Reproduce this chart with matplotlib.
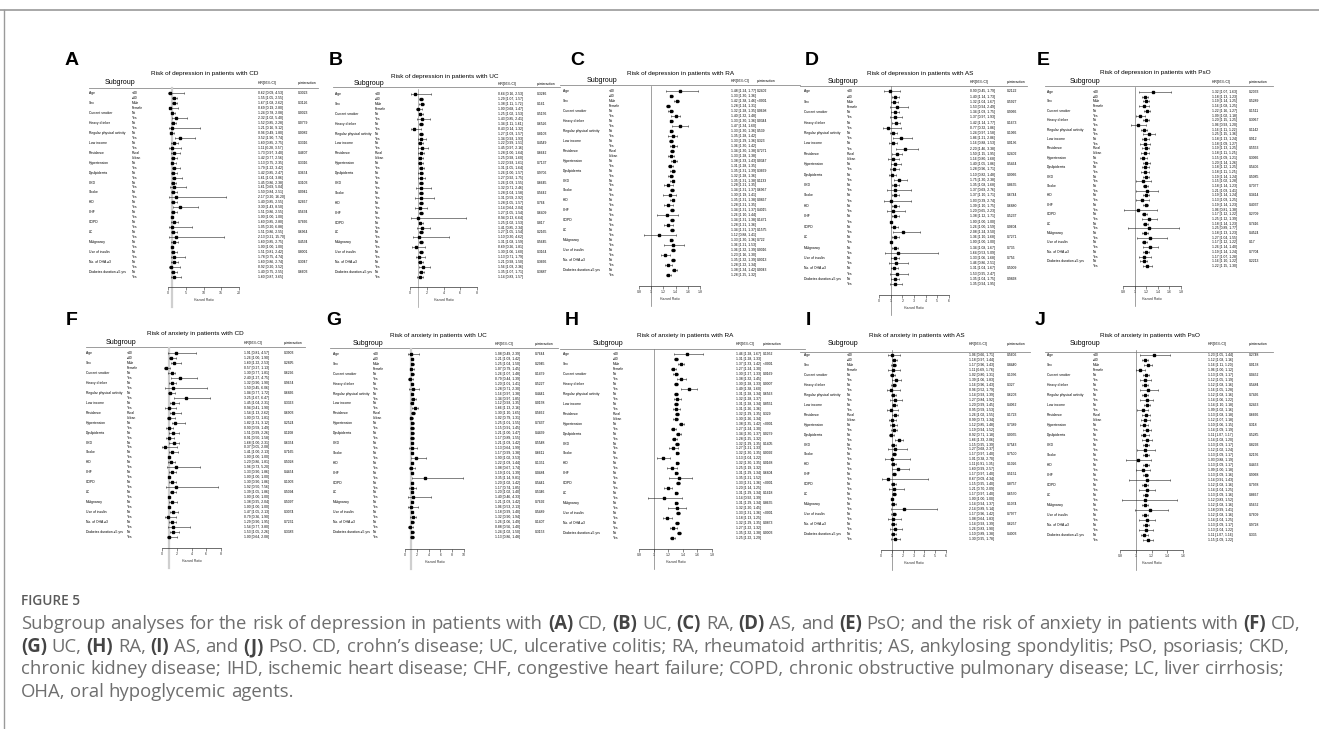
import re
import numpy as np
import matplotlib
matplotlib.use("Agg")
import matplotlib.pyplot as plt
import matplotlib.transforms as mtransforms

W, H = 1319, 729
plt.rcParams['font.family'] = ['Liberation Sans', 'DejaVu Sans']

# ---- data -------------------------------------------------------------
variables = ["Age", "Sex", "Current smoker", "Heavy drinker", "Regular physical activity",
             "Low income", "Residence", "Hypertension", "Dyslipidemia", "CKD", "Stroke",
             "IHD", "CHF", "COPD", "LC", "Malignancy", "Use of insulin", "No. of OHA \u22653",
             "Diabetes duration \u22655 yrs"]
levels = ["<40", "\u226540", "Male", "Female"] + ["No", "Yes"] * 4 + ["Rural", "Urban"] + ["No", "Yes"] * 12

# A: depression, CD
hr_a = [0.62, 1.55, 1.67, 0.69, 1.24, 2.32, 1.52, 1.21, 0.96, 3.52, 1.60, 1.11, 1.73, 1.42, 1.13, 1.79, 1.42, 1.61, 1.45,
        1.61, 1.50, 2.17, 1.40, 3.30, 1.51, 1.00, 1.60, 1.05, 1.51, 2.13, 1.60, 1.00, 1.51, 1.78, 1.60, 0.92, 1.40, 1.60]
lo_a = [0.09, 1.05, 1.08, 0.19, 0.78, 1.02, 0.85, 0.16, 0.49, 1.90, 0.85, 0.28, 0.97, 0.77, 0.75, 1.22, 0.85, 1.04, 0.86,
        0.69, 0.84, 0.20, 0.85, 1.43, 0.86, 1.00, 0.85, 0.20, 0.86, 0.21, 0.85, 1.00, 0.81, 0.75, 0.86, 0.20, 0.75, 0.87]
hi_a = [4.53, 2.55, 2.62, 2.80, 2.08, 5.40, 2.28, 9.12, 1.80, 7.74, 2.75, 3.57, 3.40, 2.56, 2.35, 3.42, 2.47, 3.86, 2.38,
        5.04, 2.51, 16.20, 2.55, 8.50, 2.55, 1.00, 2.80, 6.88, 2.55, 15.70, 2.75, 1.00, 2.42, 4.74, 2.74, 3.52, 2.55, 3.65]
p_a = ['0.3023', '0.3126', '0.0023', '0.0779', '0.0082', '0.3316', '0.4607', '0.3316', '0.3654', '0.3103',
       '0.0941', '0.2667', '0.5634', '0.7666', '0.6964', '0.4534', '0.8001', '0.3047', '0.6603']

# B: depression, UC
hr_b = [0.64, 1.29, 1.38, 1.00, 1.25, 1.43, 1.34, 0.43, 1.27, 1.34, 1.22, 1.45, 1.28, 1.25, 1.22, 1.31, 1.26, 1.27, 1.26,
        1.32, 1.28, 1.31, 1.28, 1.14, 1.27, 0.94, 1.25, 1.41, 1.27, 1.10, 1.31, 0.69, 1.30, 1.13, 1.21, 1.56, 1.35, 1.14]
lo_b = [0.16, 1.07, 1.11, 0.68, 1.02, 0.85, 1.11, 0.14, 1.03, 0.93, 0.99, 0.97, 1.00, 0.98, 0.93, 1.05, 1.00, 0.92, 1.03,
        0.71, 1.04, 0.59, 1.05, 0.64, 1.05, 0.13, 1.02, 0.85, 1.05, 0.30, 1.08, 0.26, 1.06, 0.71, 0.98, 1.03, 1.07, 0.83]
hi_b = [2.53, 1.57, 1.72, 1.47, 1.53, 2.41, 1.61, 1.32, 1.57, 1.93, 1.51, 2.16, 1.64, 1.60, 1.61, 1.64, 1.57, 1.75, 1.55,
        2.46, 1.58, 2.92, 1.57, 2.04, 1.54, 6.64, 1.53, 2.34, 1.54, 4.62, 1.59, 1.81, 1.60, 1.79, 1.50, 2.36, 1.71, 1.57]
p_b = ['0.3246', '0.161', '0.5156', '0.6526', '0.8103', '0.4549', '0.6642', '0.7137', '0.9706', '0.6645',
       '0.5642', '0.764', '0.6409', '0.817', '0.2165', '0.5645', '0.3164', '0.3666', '0.3887']

# C: depression, RA
hr_c = [1.48, 1.33, 1.42, 1.28, 1.32, 1.40, 1.33, 1.47, 1.33, 1.35, 1.33, 1.36, 1.34, 1.33, 1.38, 1.31, 1.35, 1.32, 1.35,
        1.28, 1.34, 1.30, 1.35, 1.28, 1.34, 1.26, 1.34, 1.28, 1.34, 1.12, 1.33, 1.36, 1.36, 1.23, 1.35, 1.28, 1.38, 1.28]
lo_c = [1.24, 1.30, 1.38, 1.24, 1.28, 1.32, 1.30, 1.34, 1.30, 1.28, 1.29, 1.30, 1.30, 1.28, 1.33, 1.28, 1.31, 1.28, 1.31,
        1.21, 1.31, 1.19, 1.31, 1.21, 1.31, 1.10, 1.31, 1.21, 1.31, 0.88, 1.30, 1.21, 1.32, 1.16, 1.32, 1.22, 1.34, 1.25]
hi_c = [1.77, 1.36, 1.46, 1.31, 1.35, 1.48, 1.36, 1.60, 1.36, 1.42, 1.36, 1.42, 1.38, 1.38, 1.43, 1.35, 1.39, 1.36, 1.38,
        1.35, 1.37, 1.41, 1.38, 1.35, 1.37, 1.44, 1.38, 1.36, 1.37, 1.41, 1.36, 1.53, 1.39, 1.30, 1.39, 1.34, 1.42, 1.32]
p_c = ['0.2402', '<.0001', '0.0698', '0.0344', '0.539', '0.323', '0.7271', '0.0347', '0.3669', '0.1133',
       '0.6967', '0.0867', '0.4015', '0.1471', '0.1575', '0.722', '0.0016', '0.0013', '0.0043']

# D: depression, AS
hr_d = [0.90, 1.40, 1.32, 1.53, 1.34, 1.37, 1.42, 0.77, 1.24, 1.86, 1.16, 2.20, 1.50, 1.16, 1.40, 1.28, 1.10, 1.75, 1.35,
        1.37, 1.37, 1.03, 1.39, 1.20, 1.38, 1.00, 1.26, 2.08, 1.36, 1.00, 1.34, 1.64, 1.33, 1.46, 1.31, 1.53, 1.35, 1.35]
lo_d = [0.45, 1.14, 1.04, 0.94, 1.03, 0.97, 1.14, 0.32, 0.97, 1.21, 0.88, 1.46, 1.15, 0.80, 1.05, 0.96, 0.82, 1.30, 1.08,
        0.69, 1.10, 0.39, 1.10, 0.65, 1.12, 1.00, 1.00, 1.24, 1.10, 1.00, 1.08, 0.53, 1.06, 0.86, 1.04, 0.95, 1.04, 0.94]
hi_d = [1.79, 1.73, 1.67, 2.49, 1.75, 1.93, 1.77, 1.86, 1.58, 2.86, 1.53, 3.38, 1.95, 1.68, 1.86, 1.71, 1.48, 2.38, 1.68,
        2.76, 1.71, 2.74, 1.75, 2.23, 1.71, 1.00, 1.59, 3.50, 1.68, 1.00, 1.67, 5.09, 1.68, 2.51, 1.67, 2.47, 1.75, 1.95]
p_d = ['0.2122', '0.5927', '0.9066', '0.1673', '0.1066', '0.0136', '0.2402', '0.5464', '0.0066', '0.8655',
       '0.6744', '0.6880', '0.5237', '0.0604', '0.7271', '0.735', '0.756', '0.5009', '0.9868']

# E: depression, PsO
hr_e = [1.32, 1.18, 1.19, 1.16, 1.22, 1.09, 1.20, 1.06, 1.16, 1.25, 1.18, 1.18, 1.19, 1.18, 1.15, 1.20, 1.18, 1.18, 1.19,
        1.15, 1.18, 1.21, 1.19, 1.13, 1.19, 1.06, 1.17, 1.25, 1.18, 1.25, 1.18, 1.27, 1.17, 1.26, 1.19, 1.17, 1.16, 1.22]
lo_e = [1.07, 1.13, 1.14, 1.08, 1.16, 1.02, 1.15, 0.93, 1.11, 1.15, 1.13, 1.09, 1.13, 1.11, 1.09, 1.14, 1.12, 1.11, 1.14,
        1.02, 1.14, 1.03, 1.14, 1.03, 1.14, 0.81, 1.12, 1.12, 1.14, 0.89, 1.13, 1.04, 1.12, 1.14, 1.14, 1.07, 1.10, 1.15]
hi_e = [1.63, 1.23, 1.25, 1.25, 1.27, 1.18, 1.25, 1.20, 1.22, 1.36, 1.24, 1.27, 1.25, 1.25, 1.21, 1.26, 1.25, 1.25, 1.24,
        1.28, 1.23, 1.41, 1.24, 1.25, 1.23, 1.38, 1.22, 1.39, 1.23, 1.77, 1.23, 1.55, 1.22, 1.40, 1.24, 1.28, 1.22, 1.30]
p_e = ['0.2033', '0.5289', '0.1511', '0.3067', '0.1142', '0.912', '0.5553', '0.3066', '0.5406', '0.5085',
       '0.7077', '0.3414', '0.4037', '0.2709', '0.7416', '0.4524', '0.17', '0.7704', '0.2213']

# F: anxiety, CD
hr_f = [1.91, 1.26, 1.60, 0.57, 1.30, 2.40, 1.32, 1.50, 1.04, 3.25, 1.45, 0.94, 1.54, 1.00, 1.82, 0.90, 1.51, 0.91, 1.68,
        0.37, 1.41, 1.00, 1.20, 1.96, 1.33, 1.00, 1.30, 1.92, 1.39, 1.00, 1.38, 1.00, 1.47, 0.79, 1.29, 1.54, 1.53, 1.00]
lo_f = [0.81, 1.00, 1.22, 0.27, 0.77, 1.27, 0.90, 0.45, 0.77, 1.67, 1.04, 0.41, 1.13, 0.72, 1.31, 0.59, 0.99, 0.50, 1.00,
        0.05, 1.00, 1.00, 0.86, 0.73, 0.90, 1.00, 0.90, 0.50, 1.05, 1.00, 0.95, 1.00, 1.05, 0.36, 0.90, 0.77, 1.05, 0.64]
hi_f = [4.57, 1.90, 2.53, 1.13, 1.81, 4.75, 1.90, 6.06, 1.72, 6.47, 2.31, 1.90, 2.62, 1.81, 3.12, 1.49, 2.26, 1.58, 2.31,
        2.08, 2.13, 1.00, 1.81, 5.20, 1.86, 1.00, 1.86, 7.56, 1.86, 1.00, 2.04, 1.00, 2.13, 1.90, 1.95, 3.80, 2.26, 2.08]
p_f = ['0.3903', '0.2895', '0.6296', '0.9654', '0.6866', '0.3363', '0.6903', '0.2524', '0.1108', '0.6354',
       '0.7165', '0.5028', '0.4454', '0.1003', '0.5094', '0.5097', '0.3074', '0.7231', '0.3383']

# G: anxiety, UC
hr_g = [1.08, 1.21, 1.25, 1.07, 1.26, 0.79, 1.20, 1.28, 1.16, 1.34, 1.12, 1.66, 1.30, 1.02, 1.25, 1.15, 1.21, 1.17, 1.21,
        1.13, 1.17, 1.90, 1.22, 1.08, 1.19, 3.35, 1.20, 1.17, 1.20, 1.40, 1.21, 1.06, 1.18, 1.32, 1.26, 0.88, 1.24, 1.13]
lo_g = [0.49, 1.03, 1.04, 0.79, 1.07, 0.44, 1.01, 0.71, 0.97, 0.97, 0.93, 1.13, 1.10, 0.79, 1.01, 0.91, 1.00, 0.89, 1.03,
        0.64, 0.99, 1.02, 1.03, 0.67, 1.01, 1.14, 1.02, 0.74, 1.02, 0.46, 1.03, 0.53, 0.99, 0.90, 1.06, 0.56, 1.02, 0.86]
hi_g = [2.39, 1.42, 1.50, 1.45, 1.48, 1.39, 1.41, 2.30, 1.38, 1.85, 1.35, 2.16, 1.65, 1.31, 1.55, 1.45, 1.47, 1.55, 1.42,
        1.99, 1.38, 3.53, 1.44, 1.74, 1.39, 9.81, 1.42, 1.85, 1.40, 4.33, 1.42, 2.13, 1.40, 1.94, 1.49, 1.40, 1.50, 1.48]
p_g = ['0.7644', '0.2945', '0.1479', '0.5227', '0.4441', '0.0158', '0.5662', '0.7437', '0.4439', '0.5548',
       '0.6611', '0.1351', '0.0484', '0.5441', '0.5346', '0.7692', '0.5489', '0.1407', '0.3153']

# H: anxiety, RA
hr_h = [1.46, 1.31, 1.37, 1.27, 1.30, 1.38, 1.30, 1.49, 1.31, 1.32, 1.31, 1.31, 1.32, 1.30, 1.38, 1.27, 1.34, 1.28, 1.32,
        1.27, 1.32, 1.13, 1.32, 1.25, 1.31, 1.35, 1.33, 1.20, 1.31, 1.14, 1.31, 1.32, 1.33, 1.18, 1.32, 1.27, 1.35, 1.25]
lo_h = [1.28, 1.28, 1.33, 1.24, 1.27, 1.32, 1.28, 1.38, 1.28, 1.28, 1.28, 1.26, 1.29, 1.26, 1.35, 1.24, 1.30, 1.25, 1.29,
        1.21, 1.30, 1.04, 1.30, 1.19, 1.29, 1.21, 1.31, 1.14, 1.29, 0.92, 1.29, 1.20, 1.31, 1.13, 1.29, 1.22, 1.32, 1.22]
hi_h = [1.67, 1.33, 1.42, 1.30, 1.33, 1.45, 1.33, 1.60, 1.34, 1.37, 1.34, 1.36, 1.35, 1.34, 1.42, 1.30, 1.37, 1.32, 1.35,
        1.33, 1.35, 1.22, 1.35, 1.32, 1.34, 1.52, 1.36, 1.25, 1.34, 1.39, 1.34, 1.45, 1.36, 1.25, 1.35, 1.32, 1.38, 1.29]
p_h = ['0.1952', '<.0001', '0.0169', '0.0007', '0.6563', '0.8551', '0.329', '<.0001', '0.0279', '0.1405',
       '0.0092', '0.0168', '0.6804', '<.0001', '0.1618', '0.8655', '<.0001', '0.0873', '0.0003']

# I: anxiety, AS
hr_i = [1.06, 1.18, 1.17, 1.11, 1.02, 1.39, 1.16, 0.96, 1.14, 1.27, 1.20, 0.95, 1.26, 0.99, 1.12, 1.19, 0.92, 1.66, 1.15,
        1.27, 1.17, 1.01, 1.11, 1.60, 1.17, 0.67, 1.15, 1.21, 1.17, 1.00, 1.14, 2.14, 1.17, 1.08, 1.14, 1.26, 1.10, 1.30]
lo_i = [0.66, 0.97, 0.96, 0.69, 0.80, 1.06, 0.96, 0.52, 0.93, 0.84, 0.99, 0.59, 1.02, 0.73, 0.85, 0.94, 0.71, 1.33, 0.95,
        0.68, 0.97, 0.38, 0.91, 0.99, 0.97, 0.09, 0.95, 0.70, 0.97, 1.00, 0.94, 0.89, 0.96, 0.64, 0.93, 0.83, 0.89, 0.95]
hi_i = [1.71, 1.44, 1.43, 1.78, 1.31, 1.83, 1.43, 1.79, 1.39, 1.92, 1.45, 1.53, 1.55, 1.34, 1.48, 1.52, 1.18, 2.06, 1.39,
        2.37, 1.40, 2.70, 1.35, 2.57, 1.40, 4.34, 1.40, 2.09, 1.40, 1.00, 1.37, 5.14, 1.42, 1.83, 1.39, 1.90, 1.38, 1.78]
p_i = ['0.5606', '0.8440', '0.1036', '0.327', '0.6203', '0.4062', '0.1723', '0.7389', '0.0055', '0.7543',
       '0.7500', '0.1026', '0.5151', '0.8757', '0.6570', '0.1074', '0.7977', '0.6257', '0.4003']

# J: anxiety, PsO
hr_j = [1.23, 1.12, 1.16, 1.06, 1.13, 1.12, 1.12, 1.16, 1.12, 1.14, 1.14, 1.09, 1.13, 1.12, 1.10, 1.14, 1.11, 1.14, 1.13,
        1.12, 1.13, 1.03, 1.13, 1.09, 1.13, 1.14, 1.12, 1.14, 1.13, 1.12, 1.12, 1.18, 1.12, 1.14, 1.13, 1.13, 1.11, 1.15]
lo_j = [1.05, 1.08, 1.11, 1.00, 1.09, 1.05, 1.08, 1.05, 1.08, 1.06, 1.10, 1.02, 1.08, 1.07, 1.06, 1.09, 1.07, 1.08, 1.09,
        1.02, 1.09, 0.88, 1.09, 1.00, 1.09, 0.91, 1.08, 1.04, 1.09, 0.83, 1.08, 0.99, 1.08, 1.04, 1.09, 1.04, 1.07, 1.09]
hi_j = [1.44, 1.16, 1.20, 1.12, 1.17, 1.19, 1.16, 1.28, 1.16, 1.22, 1.18, 1.16, 1.18, 1.18, 1.15, 1.19, 1.17, 1.20, 1.17,
        1.24, 1.17, 1.19, 1.17, 1.18, 1.16, 1.43, 1.16, 1.25, 1.16, 1.52, 1.16, 1.41, 1.16, 1.25, 1.17, 1.22, 1.16, 1.22]
p_j = ['0.2748', '0.0138', '0.0452', '0.5484', '0.7466', '0.2463', '0.6666', '0.318', '0.5285', '0.8293',
       '0.2156', '0.4453', '0.9068', '0.7958', '0.8667', '0.5652', '0.7609', '0.9728', '0.335']

titles = ["Risk of depression in patients with CD", "Risk of depression in patients with UC",
          "Risk of depression in patients with RA", "Risk of depression in patients with AS",
          "Risk of depression in patients with PsO", "Risk of anxiety in patients with CD",
          "Risk of anxiety in patients with UC", "Risk of anxiety in patients with RA",
          "Risk of anxiety in patients with AS", "Risk of anxiety in patients with PsO"]
letters = list("ABCDEFGHIJ")
ticks_all = [[0, 5, 10, 15, 20], [0, 2, 4, 6, 8], [0.8, 1, 1.2, 1.4, 1.6, 1.8], [0, 1, 2, 3, 4, 5, 6],
             [0.8, 1, 1.2, 1.4, 1.6, 1.8], [0, 2, 4, 6, 8], [0, 2, 4, 6, 8, 10], [0.8, 1, 1.2, 1.4, 1.6, 1.8],
             [0, 1, 2, 3, 4, 5, 6], [0.8, 1, 1.2, 1.4, 1.6]]
series = [(hr_a, lo_a, hi_a, p_a), (hr_b, lo_b, hi_b, p_b), (hr_c, lo_c, hi_c, p_c), (hr_d, lo_d, hi_d, p_d),
          (hr_e, lo_e, hi_e, p_e), (hr_f, lo_f, hi_f, p_f), (hr_g, lo_g, hi_g, p_g), (hr_h, lo_h, hi_h, p_h),
          (hr_i, lo_i, hi_i, p_i), (hr_j, lo_j, hi_j, p_j)]

# ---- layout (pixels) ---------------------------------------------------
# letter x, var x, level x, subgroup cx, title cx, axis x0, axis x1, hr x, p x, line x0, line x1
cols = [(72, 89, 132, 120, 205, 168, 239, 258, 298, 89, 318),
        (336, 335, 375, 369, 445, 410, 477, 498, 537, 333, 560),
        (577, 563, 609, 602, 681, 639, 700, 731, 757, 560, 800),
        (812, 804, 847, 843, 920, 879, 949, 970, 1007, 800, 1027),
        (1043, 1047, 1093, 1085, 1155, 1123, 1181, 1212, 1249, 1045, 1273),
        (72, 86, 127, 121, 195, 162, 221, 244, 284, 86, 305),
        (334, 333, 373, 368, 438, 405, 464, 495, 535, 330, 558),
        (572, 563, 613, 608, 685, 639, 712, 736, 763, 560, 805),
        (808, 804, 847, 843, 917, 881, 946, 969, 1007, 800, 1030),
        (1040, 1047, 1093, 1085, 1150, 1120, 1183, 1208, 1249, 1045, 1273)]
# letter y, title y, subgroup y, header line y, first row y, last row y, axis y
rowsy = [(60, 73, 82, 88, 93.3, 276.7, 287), (60, 76, 83, 87, 94, 277, 287),
         (60, 73, 80, 85, 91, 275, 286), (60, 73, 81, 86, 91.3, 284, 295),
         (60, 72, 81, 86, 92, 266, 286), (320, 333, 342, 347, 353, 537, 548),
         (320, 335, 343, 348, 354, 537, 549), (320, 335, 343, 349, 354, 538, 549),
         (320, 335, 343, 352, 355, 539, 550), (320, 335, 343, 352, 355, 540, 550)]
ref_style = [('#cfcfcf', 1.6), ('#9a9a9a', 0.5), ('#7a7a7a', 0.5), ('#7a7a7a', 0.5), ('#7a7a7a', 0.5),
             ('#cfcfcf', 1.6), ('#cfcfcf', 1.6), ('#7a7a7a', 0.5), ('#7a7a7a', 0.5), ('#7a7a7a', 0.5)]

SMALL = 2.4
fig = plt.figure(figsize=(W / 100, H / 100), dpi=100)
bg = fig.add_axes([0, 0, 1, 1])
bg.set_xlim(0, W)
bg.set_ylim(H, 0)
bg.axis('off')

# frame lines of the figure box
bg.plot([0, W], [10, 10], color='#9a9a9a', lw=1.2)
bg.plot([4, 4], [10, H], color='#9a9a9a', lw=1.0)

for k in range(10):
    hr, lo, hi, pv = [np.array(v) if i < 3 else v for i, v in enumerate(series[k])]
    lx, vx, lvx, sx, tx, x0, x1, hx, px, l0, l1 = cols[k]
    ly, ty, sy, hy, r0, rn, ay = rowsy[k]
    ticks = ticks_all[k]
    n = len(hr)
    step = (rn - r0) / (n - 1)
    top = r0 - step
    ax = fig.add_axes([x0 / W, 1 - ay / H, (x1 - x0) / W, (ay - top) / H])
    ax.patch.set_visible(False)
    ax.set_xlim(ticks[0], ticks[-1])
    ax.set_ylim((ay - r0) / step, -1)
    rows = np.arange(n)
    rc, rw = ref_style[k]
    ax.axvline(1, ymin=-20 / (ay - top), ymax=1, color=rc, lw=rw, clip_on=False, zorder=0)
    ax.errorbar(hr, rows, xerr=[hr - lo, hi - hr], fmt='s', ms=1.5, mfc='black', mec='black',
                ecolor='#222222', elinewidth=0.4, capsize=1.0, capthick=0.4, clip_on=False)
    for s in ['top', 'right', 'left']:
        ax.spines[s].set_visible(False)
    ax.spines['bottom'].set_linewidth(0.5)
    ax.spines['bottom'].set_color('#333333')
    ax.set_yticks([])
    ax.set_xticks(ticks)
    ax.set_xticklabels([f"{t:g}" for t in ticks])
    ax.tick_params(axis='x', labelsize=2.6, length=2, width=0.4, pad=1.2, colors='#333333')
    ax.set_xlabel('Hazard Ratio', fontsize=SMALL, labelpad=1.6, color='#333333')

    tr = mtransforms.blended_transform_factory(bg.transData, ax.transData)
    for i in rows:
        ax.text(lvx, i, levels[i], transform=tr, fontsize=SMALL, va='center', ha='left')
        ax.text(hx, i, f"{hr[i]:.2f} [{lo[i]:.2f}, {hi[i]:.2f}]", transform=tr, fontsize=SMALL,
                va='center', ha='left')
    for j, v in enumerate(variables):
        ax.text(vx, 2 * j, v, transform=tr, fontsize=SMALL, va='center', ha='left')
        ax.text(px, 2 * j, pv[j], transform=tr, fontsize=SMALL, va='center', ha='left')

    bg.text(lx, ly, letters[k], fontsize=14, fontweight='bold', ha='center', va='center')
    bg.text(tx, ty, titles[k], fontsize=4.6, ha='center', va='center')
    bg.text(sx, sy, "Subgroup", fontsize=5.0, ha='center', va='center')
    bg.text(hx, sy + 1, "HR[95% CI]", fontsize=SMALL, ha='left', va='center')
    bg.text(px, sy + 1, "p-interaction", fontsize=SMALL, ha='left', va='center')
    bg.plot([l0, l1], [hy, hy], color='#8c8c8c', lw=0.6)

# ---- caption -----------------------------------------------------------
cap_font = ['Open Sans', 'DejaVu Sans']
bg.text(21, 601, "FIGURE 5", fontsize=9.8, fontweight='semibold', color='#5a5a5a',
        family=cap_font, ha='left', va='center')
cap_lines = [
    "Subgroup analyses for the risk of depression in patients with (A) CD, (B) UC, (C) RA, (D) AS, and (E) PsO; and the risk of anxiety in patients with (F) CD,",
    "(G) UC, (H) RA, (I) AS, and (J) PsO. CD, crohn\u2019s disease; UC, ulcerative colitis; RA, rheumatoid arthritis; AS, ankylosing spondylitis; PsO, psoriasis; CKD,",
    "chronic kidney disease; IHD, ischemic heart disease; CHF, congestive heart failure; COPD, chronic obstructive pulmonary disease; LC, liver cirrhosis;",
    "OHA, oral hypoglycemic agents.",
]
cap_y = [624, 647, 669, 692]
renderer = fig.canvas.get_renderer()


def text_width(s, size, **kw):
    t = bg.text(0, 0, s, fontsize=size, family=cap_font, **kw)
    w = t.get_window_extent(renderer).width
    t.remove()
    return w


# size the caption so that its first line runs to the right edge, as in the reference
CAP = 11.0 * 1270 / text_width(cap_lines[0], 11.0)
space = text_width("a a", CAP) - text_width("aa", CAP)
for line, y in zip(cap_lines, cap_y):
    x = 21
    for tok in line.split(' '):
        bold = re.fullmatch(r'\([A-J]\)', tok) is not None
        t = bg.text(x, y, tok, fontsize=CAP, family=cap_font, ha='left', va='center',
                    fontweight='bold' if bold else 'normal', color='#444444' if bold else '#6e6e6e')
        x += t.get_window_extent(renderer).width + space

fig.savefig("out.png", dpi=100)
